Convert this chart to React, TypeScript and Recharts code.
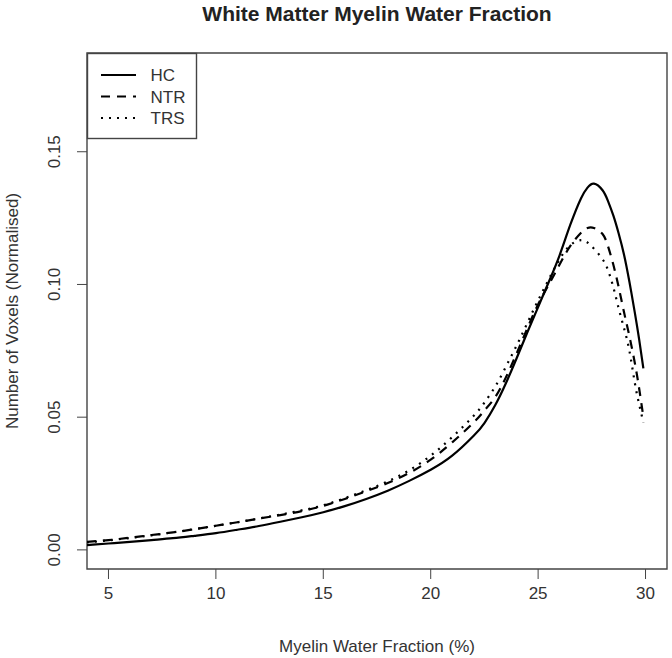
import React from "react";
import { LineChart, Line, XAxis, YAxis, ReferenceArea } from "recharts";

// Myelin water fraction (%) sample positions
const mwf = [
  4, 5, 6, 7, 8, 9, 10, 11, 12, 13, 14, 15, 16, 17, 18, 19, 20, 21, 22, 22.5,
  23, 23.5, 24, 24.5, 25, 25.5, 26, 26.5, 27, 27.3, 27.6, 28, 28.25, 28.5,
  28.75, 29, 29.25, 29.5, 29.7, 29.9,
];

// normalised voxel counts per group
const hc = [
  0.0018, 0.0024, 0.003, 0.0037, 0.0044, 0.0053, 0.0063, 0.0076, 0.009, 0.0106,
  0.0123, 0.0142, 0.0165, 0.0192, 0.0223, 0.026, 0.0302, 0.0355, 0.043, 0.0478,
  0.0545, 0.0628, 0.0722, 0.082, 0.0915, 0.101, 0.111, 0.1225, 0.1325, 0.1365,
  0.138, 0.1355, 0.1315, 0.126, 0.1192, 0.1112, 0.101, 0.0895, 0.0795, 0.0684,
];
const ntr = [
  0.003, 0.0037, 0.0046, 0.0056, 0.0066, 0.0078, 0.0091, 0.0104, 0.0118, 0.0131,
  0.0146, 0.0166, 0.0192, 0.0221, 0.0252, 0.029, 0.034, 0.0405, 0.048, 0.0525,
  0.0575, 0.065, 0.074, 0.0835, 0.0925, 0.1, 0.1075, 0.1145, 0.1195, 0.1213,
  0.1213, 0.119, 0.1145, 0.1075, 0.099, 0.0895, 0.0805, 0.0705, 0.061, 0.05,
];
const trs = [
  0.0028, 0.0036, 0.0045, 0.0055, 0.0066, 0.0078, 0.0091, 0.0104, 0.0118,
  0.0133, 0.0149, 0.0168, 0.0195, 0.0225, 0.0258, 0.03, 0.0355, 0.0425, 0.0505,
  0.0555, 0.0615, 0.069, 0.077, 0.0855, 0.094, 0.102, 0.1095, 0.1148, 0.1167,
  0.1158, 0.1135, 0.1095, 0.1055, 0.099, 0.091, 0.0835, 0.075, 0.063, 0.055,
  0.048,
];

const xTicks = [5, 10, 15, 20, 25, 30];
const yTicks = [0, 0.05, 0.1, 0.15];

const groups = ["HC", "NTR", "TRS"];
const dashes = ["", "9 7", "2 6"];

const data = mwf.map((x, i) => ({ x, hc: hc[i], ntr: ntr[i], trs: trs[i] }));

const font = "'Liberation Sans', Arial, sans-serif";
const ink = "#333";

const YTick = (props: any) => {
  const { x, y, payload } = props;
  return (
    <text
      transform={`translate(${x - 15},${y}) rotate(-90)`}
      textAnchor="middle"
      dy="0.35em"
      fontSize={17}
      fill={ink}
      fontFamily={font}
    >
      {payload.value.toFixed(2)}
    </text>
  );
};

export default function App() {
  return (
    <div
      style={{
        position: "fixed",
        left: 0,
        top: 0,
        width: 672,
        height: 658,
        background: "#fff",
        fontFamily: font,
      }}
    >
      <LineChart
        width={672}
        height={658}
        data={data}
        margin={{ top: 53, right: 5, bottom: 0, left: 0 }}
      >
        <XAxis
          type="number"
          dataKey="x"
          domain={[4, 31]}
          ticks={xTicks}
          allowDataOverflow
          axisLine={false}
          tickSize={10}
          tickMargin={8}
          height={89}
          stroke="#444"
          tick={{ fontSize: 17, fill: ink, fontFamily: font }}
        />
        <YAxis
          type="number"
          domain={[-0.0072, 0.1872]}
          ticks={yTicks}
          allowDataOverflow
          axisLine={false}
          tickSize={10}
          tickMargin={8}
          width={87}
          stroke="#444"
          tick={<YTick />}
        />
        <ReferenceArea
          x1={4}
          x2={31}
          y1={-0.0072}
          y2={0.1872}
          fill="none"
          stroke="#444"
          strokeWidth={1.4}
          fillOpacity={0}
        />
        <Line
          dataKey="hc"
          type="natural"
          stroke="#000"
          strokeWidth={2.2}
          dot={false}
          isAnimationActive={false}
        />
        <Line
          dataKey="ntr"
          type="natural"
          stroke="#000"
          strokeWidth={2.2}
          strokeDasharray={dashes[1]}
          dot={false}
          isAnimationActive={false}
        />
        <Line
          dataKey="trs"
          type="natural"
          stroke="#000"
          strokeWidth={2.2}
          strokeDasharray={dashes[2]}
          dot={false}
          isAnimationActive={false}
        />
      </LineChart>
      <svg
        width={672}
        height={658}
        style={{ position: "absolute", left: 0, top: 0, pointerEvents: "none" }}
        fontFamily={font}
      >
        <text x={377} y={21} textAnchor="middle" fontSize={21} fontWeight="bold" fill="#222">
          White Matter Myelin Water Fraction
        </text>
        <text x={377} y={652} textAnchor="middle" fontSize={17} fill={ink}>
          Myelin Water Fraction (%)
        </text>
        <text
          transform="translate(18,311) rotate(-90)"
          textAnchor="middle"
          fontSize={17}
          fill={ink}
        >
          Number of Voxels (Normalised)
        </text>
        <rect x={87.5} y={53.5} width={109} height={85} fill="#fff" stroke="#444" strokeWidth={1.4} />
        {groups.map((g, i) => (
          <g key={g}>
            <line
              x1={101}
              x2={136}
              y1={75 + i * 21.5}
              y2={75 + i * 21.5}
              stroke="#000"
              strokeWidth={2.2}
              strokeDasharray={dashes[i] || undefined}
            />
            <text x={150.5} y={81 + i * 21.5} fontSize={17} fill={ink}>
              {g}
            </text>
          </g>
        ))}
      </svg>
    </div>
  );
}
